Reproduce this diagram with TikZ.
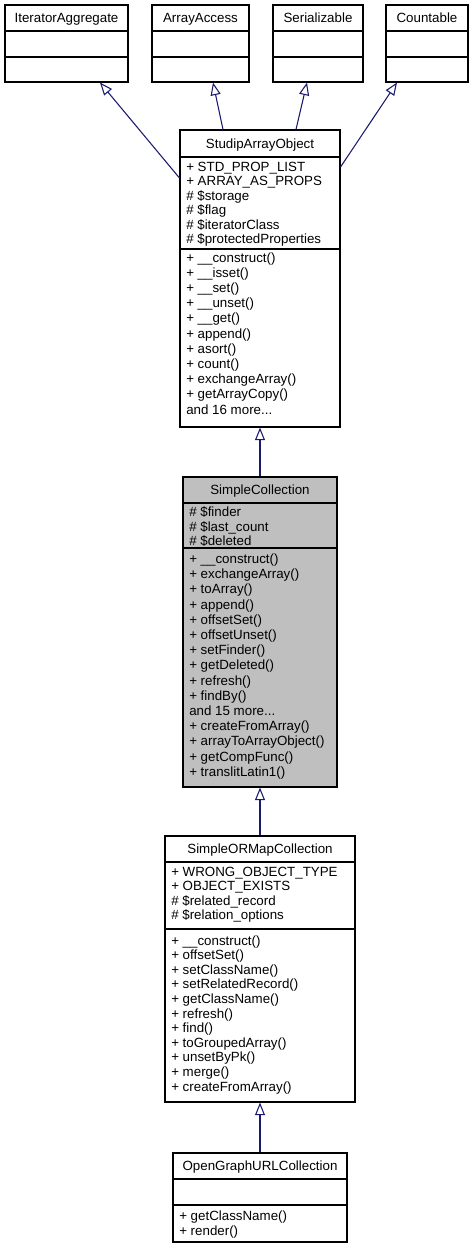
\documentclass[tikz,border=0pt]{standalone}
\usepackage{fontspec}
\setmainfont{Liberation Sans}
\usetikzlibrary{arrows.meta,fit}
\definecolor{edgeblue}{RGB}{25,25,112}
\definecolor{classgray}{RGB}{191,191,191}
\newcommand{\etcdots}{...}

\begin{document}
\begin{tikzpicture}[x=0.75pt,y=-0.75pt,
  classbox/.style={draw=black,line width=0.8pt,inner sep=0pt,fill=white},
  sepline/.style={draw=black,line width=0.8pt},
  classtitle/.style={anchor=base,inner sep=0pt,font=\fontsize{10}{12}\selectfont},
  classmember/.style={anchor=base west,inner sep=0pt,font=\fontsize{10}{12}\selectfont},
  inherit/.style={draw=edgeblue,line width=0.8pt,-{Triangle[open,length=9.5pt,width=7.5pt]}}]
  \useasboundingbox (0,0) rectangle (474,1249);

  % interfaces
  \node[classbox,fit={(5,5) (128,82)}] (iter) {};
  \draw[sepline] (iter.west |- 0,31) -- (iter.east |- 0,31);
  \draw[sepline] (iter.west |- 0,57) -- (iter.east |- 0,57);
  \node[classtitle] (iter-t) at (iter.center |- 0,22.7) {IteratorAggregate};

  \node[classbox,fit={(152,5) (249,82)}] (access) {};
  \draw[sepline] (access.west |- 0,31) -- (access.east |- 0,31);
  \draw[sepline] (access.west |- 0,57) -- (access.east |- 0,57);
  \node[classtitle] (access-t) at (access.center |- 0,22.7) {ArrayAccess};

  \node[classbox,fit={(273,5) (363,82)}] (serial) {};
  \draw[sepline] (serial.west |- 0,31) -- (serial.east |- 0,31);
  \draw[sepline] (serial.west |- 0,57) -- (serial.east |- 0,57);
  \node[classtitle] (serial-t) at (serial.center |- 0,22.7) {Serializable};

  \node[classbox,fit={(386,5) (468,82)}] (count) {};
  \draw[sepline] (count.west |- 0,31) -- (count.east |- 0,31);
  \draw[sepline] (count.west |- 0,57) -- (count.east |- 0,57);
  \node[classtitle] (count-t) at (count.center |- 0,22.7) {Countable};

  % StudipArrayObject
  \node[classbox,fit={(180,130) (340,427)}] (sao) {};
  \draw[sepline] (sao.west |- 0,157) -- (sao.east |- 0,157);
  \draw[sepline] (sao.west |- 0,249) -- (sao.east |- 0,249);
  \node[classtitle] (sao-t) at (sao.center |- 0,148) {StudipArrayObject};
  \foreach \m [count=\i] in {+ STD\_PROP\_LIST, + ARRAY\_AS\_PROPS, \# \$storage,
      \# \$flag, \# \$iteratorClass, \# \$protectedProperties}
    \node[classmember] (sao-a\i) at (186,{171+14.5*(\i-1)}) {\m};
  \foreach \m [count=\i] in {+ \_\_construct(), + \_\_isset(), + \_\_set(), + \_\_unset(),
      + \_\_get(), + append(), + asort(), + count(), + exchangeArray(),
      + getArrayCopy(), and 16 more\etcdots}
    \node[classmember] (sao-m\i) at (186,{262+15.2*(\i-1)}) {\m};

  % SimpleCollection
  \node[classbox,fill=classgray,fit={(183,477) (337,787)}] (coll) {};
  \draw[sepline] (coll.west |- 0,503) -- (coll.east |- 0,503);
  \draw[sepline] (coll.west |- 0,548) -- (coll.east |- 0,548);
  \node[classtitle] (coll-t) at (coll.center |- 0,494.7) {SimpleCollection};
  \foreach \m [count=\i] in {\# \$finder, \# \$last\_count, \# \$deleted}
    \node[classmember] (coll-a\i) at (189,{516.5+14.5*(\i-1)}) {\m};
  \foreach \m [count=\i] in {+ \_\_construct(), + exchangeArray(), + toArray(), + append(),
      + offsetSet(), + offsetUnset(), + setFinder(), + getDeleted(), + refresh(),
      + findBy(), and 15 more\etcdots, + createFromArray(), + arrayToArrayObject(),
      + getCompFunc(), + translitLatin1()}
    \node[classmember] (coll-m\i) at (189,{563.5+15.2*(\i-1)}) {\m};

  % SimpleORMapCollection
  \node[classbox,fit={(165,836) (355,1102)}] (orm) {};
  \draw[sepline] (orm.west |- 0,862) -- (orm.east |- 0,862);
  \draw[sepline] (orm.west |- 0,929) -- (orm.east |- 0,929);
  \node[classtitle] (orm-t) at (orm.center |- 0,853.7) {SimpleORMapCollection};
  \foreach \m [count=\i] in {+ WRONG\_OBJECT\_TYPE, + OBJECT\_EXISTS,
      \# \$related\_record, \# \$relation\_options}
    \node[classmember] (orm-a\i) at (171,{876+14.5*(\i-1)}) {\m};
  \foreach \m [count=\i] in {+ \_\_construct(), + offsetSet(), + setClassName(),
      + setRelatedRecord(), + getClassName(), + refresh(), + find(),
      + toGroupedArray(), + unsetByPk(), + merge(), + createFromArray()}
    \node[classmember] (orm-m\i) at (171,{945+14.6*(\i-1)}) {\m};

  % OpenGraphURLCollection
  \node[classbox,fit={(173,1153) (347,1242)}] (og) {};
  \draw[sepline] (og.west |- 0,1179) -- (og.east |- 0,1179);
  \draw[sepline] (og.west |- 0,1205) -- (og.east |- 0,1205);
  \node[classtitle] (og-t) at (og.center |- 0,1170.7) {OpenGraphURLCollection};
  \foreach \m [count=\i] in {+ getClassName(), + render()}
    \node[classmember] (og-m\i) at (179,{1220.5+14.5*(\i-1)}) {\m};

  % inheritance
  \draw[inherit] (sao.west |- 0,178) -- (iter.south -| 100,0);
  \draw[inherit] (sao.north -| 223,0) -- (access.south -| 213,0);
  \draw[inherit] (sao.north -| 296,0) -- (serial.south -| 307,0);
  \draw[inherit] (sao.east |- 0,167) -- (count.south -| 397,0);
  \draw[inherit] (coll) -- (sao);
  \draw[inherit] (orm) -- (coll);
  \draw[inherit] (og) -- (orm);
\end{tikzpicture}
\end{document}
